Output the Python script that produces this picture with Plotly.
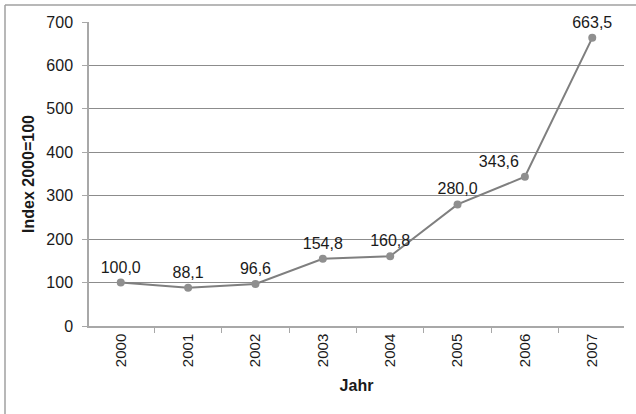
import plotly.graph_objects as go

years = ["2000", "2001", "2002", "2003", "2004", "2005", "2006", "2007"]
index_values = [100.0, 88.1, 96.6, 154.8, 160.8, 280.0, 343.6, 663.5]
value_labels = [f"{v:.1f}".replace(".", ",") for v in index_values]
label_positions = ["top center"] * 6 + ["top left", "top center"]

FONT = "Liberation Sans, Arial, sans-serif"
TEXT = "#1a1a1a"

fig = go.Figure(
    go.Scatter(
        x=years,
        y=index_values,
        mode="lines+markers+text",
        text=value_labels,
        textposition=label_positions,
        textfont=dict(family=FONT, size=16, color=TEXT),
        line=dict(color="#7f7f7f", width=2),
        marker=dict(color="#8f8f8f", size=8),
        cliponaxis=False,
        showlegend=False,
    )
)

W, H = 636, 414
L, R, T, B = 89, 12, 22, 88
pw, ph = W - L - R, H - T - B
bx = (5 - L) / pw
by = 1 + (T - 5) / ph

fig.update_layout(
    width=W,
    height=H,
    margin=dict(l=L, r=R, t=T, b=B),
    paper_bgcolor="white",
    plot_bgcolor="white",
    font=dict(family=FONT, size=15, color=TEXT),
    shapes=[
        dict(type="line", xref="paper", yref="paper", x0=bx, x1=1.1, y0=by, y1=by,
             line=dict(color="#a0a0a0", width=1.5)),
        dict(type="line", xref="paper", yref="paper", x0=bx, x1=bx, y0=by, y1=-0.4,
             line=dict(color="#a0a0a0", width=1.5)),
    ],
)

fig.update_xaxes(
    type="category",
    tickangle=-90,
    tickfont=dict(family=FONT, size=15, color=TEXT),
    showline=True,
    linecolor="#a8a8a8",
    linewidth=1.5,
    ticks="outside",
    tickson="boundaries",
    ticklen=5,
    tickcolor="#a8a8a8",
    showgrid=False,
    title=dict(text="<b>Jahr</b>", font=dict(family=FONT, size=16, color=TEXT), standoff=14),
)

fig.update_yaxes(
    range=[0, 700],
    dtick=100,
    tickfont=dict(family=FONT, size=16, color=TEXT),
    ticklabelstandoff=6,
    showline=True,
    linecolor="#a8a8a8",
    linewidth=1.5,
    ticks="outside",
    ticklen=5,
    tickcolor="#a8a8a8",
    showgrid=True,
    gridcolor="#8c8c8c",
    gridwidth=1,
    zeroline=False,
    title=dict(text="<b>Index 2000=100</b>", font=dict(family=FONT, size=16, color=TEXT), standoff=8),
)

fig.write_html("out.html")
